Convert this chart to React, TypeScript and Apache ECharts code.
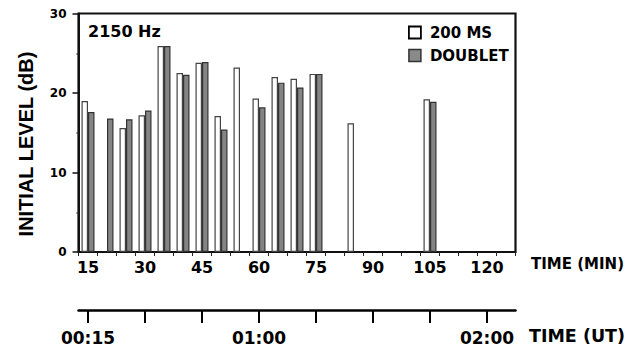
import React, { useEffect, useRef } from "react";
import * as echarts from "echarts";

// Time after start (minutes), one category every 5 minutes
const minutes = ["15", "20", "25", "30", "35", "40", "45", "50", "55", "60", "65", "70", "75", "80", "85", "90", "95", "100", "105", "110", "115", "120", "125"];
// Initial level (dB) of the 200 ms pulses
const ms200 = [19.0, null, 15.6, 17.2, 25.9, 22.5, 23.8, 17.1, 23.2, 19.3, 22.0, 21.8, 22.4, null, 16.2, null, null, null, 19.2, null, null, null, null];
// Initial level (dB) of the doublets
const doublet = [17.6, 16.8, 16.7, 17.8, 25.9, 22.3, 23.9, 15.4, null, 18.2, 21.3, 20.7, 22.4, null, null, null, null, null, 18.9, null, null, null, null];
// Universal time axis
const utTickMinutes = ["15", "30", "45", "60", "75", "90", "105", "120"];
const utLabelMinutes = ["15", "60", "120"];
const utLabelTexts = ["00:15", "01:00", "02:00"];
const minLabelMinutes = ["15", "30", "45", "60", "75", "90", "105", "120"];
const yTicks = [0, 10, 20, 30];

const SANS = "DejaVu Sans";

export default function App() {
  const ref = useRef<HTMLDivElement>(null);
  useEffect(() => {
    if (!ref.current) return;
    const chart = echarts.init(ref.current, null, { renderer: "svg" });
    const option: any = {
      animation: false,
      backgroundColor: "#ffffff",
      grid: {
        left: 78.5,
        right: 115.5,
        top: 13.5,
        bottom: 97,
        show: true,
        borderColor: "#111",
        borderWidth: 2.2,
        containLabel: false,
      },
      legend: {
        left: 403,
        top: 20,
        orient: "vertical",
        itemWidth: 12,
        itemHeight: 12,
        itemGap: 8,
        icon: "rect",
        textStyle: { fontFamily: SANS, fontWeight: "bold", fontSize: 15, color: "#000", padding: [0, 0, 0, 4] },
        data: [
          { name: "200 MS", itemStyle: { color: "#fff", borderColor: "#000", borderWidth: 1.8 } },
          { name: "DOUBLET", itemStyle: { color: "#8a8a8a", borderColor: "#333", borderWidth: 1.5 } },
        ],
      },
      xAxis: [
        {
          type: "category",
          data: minutes,
          gridIndex: 0,
          position: "bottom",
          boundaryGap: true,
          axisLine: { lineStyle: { color: "#111", width: 1.5 } },
          axisTick: { show: true, interval: 0, length: 4, lineStyle: { color: "#222", width: 1 } },
          axisLabel: {
            interval: (i: number, v: string) => minLabelMinutes.includes(v),
            margin: 7,
            fontFamily: SANS,
            fontWeight: "bold",
            fontSize: 16,
            color: "#000",
          },
          splitLine: { show: false },
        },
        {
          type: "category",
          data: minutes,
          gridIndex: 0,
          position: "bottom",
          offset: 58,
          boundaryGap: true,
          axisLine: { show: true, lineStyle: { color: "#000", width: 2.5 } },
          axisTick: {
            show: true,
            alignWithLabel: true,
            interval: (i: number, v: string) => utTickMinutes.includes(v),
            length: 13,
            lineStyle: { color: "#000", width: 2 },
          },
          axisLabel: {
            interval: (i: number, v: string) => utLabelMinutes.includes(v),
            formatter: (v: string) => {
              const k = utLabelMinutes.indexOf(v);
              return k >= 0 ? utLabelTexts[k] : "";
            },
            margin: 19,
            fontFamily: SANS,
            fontWeight: "bold",
            fontSize: 17,
            color: "#000",
          },
          splitLine: { show: false },
        },
      ],
      yAxis: {
        type: "value",
        min: yTicks[0],
        max: yTicks[yTicks.length - 1],
        interval: 10,
        axisLine: { show: true, lineStyle: { color: "#111", width: 2 } },
        axisTick: { show: true, length: 6, lineStyle: { color: "#111", width: 1.5 } },
        minorTick: { show: true, splitNumber: 2, length: 2, lineStyle: { color: "#333", width: 1.5 } },
        axisLabel: { margin: 12, fontFamily: SANS, fontWeight: "bold", fontSize: 12, color: "#000" },
        splitLine: { show: false },
      },
      graphic: [
        {
          type: "text",
          left: 88,
          top: 23,
          style: { text: "2150 Hz", fontFamily: SANS, fontWeight: "bold", fontSize: 16, fill: "#000" },
        },
        {
          type: "text",
          x: 25.5,
          y: 144,
          rotation: Math.PI / 2,
          style: {
            text: "INITIAL LEVEL (dB)",
            fontFamily: "Liberation Sans",
            fontWeight: "bold",
            fontSize: 20,
            fill: "#000",
            align: "center",
            verticalAlign: "middle",
          },
        },
        {
          type: "text",
          x: 531,
          y: 263.5,
          style: { text: "TIME (MIN)", fontFamily: SANS, fontWeight: "bold", fontSize: 15, fill: "#000", align: "left", verticalAlign: "middle" },
        },
        {
          type: "text",
          x: 529,
          y: 335.5,
          style: { text: "TIME (UT)", fontFamily: SANS, fontWeight: "bold", fontSize: 17.5, fill: "#000", align: "left", verticalAlign: "middle" },
        },
      ],
      series: [
        {
          name: "200 MS",
          type: "bar",
          xAxisIndex: 0,
          data: ms200,
          barWidth: 6.5,
          barGap: "0%",
          itemStyle: { color: "#ffffff", borderColor: "#444", borderWidth: 1.2 },
        },
        {
          name: "DOUBLET",
          type: "bar",
          xAxisIndex: 0,
          data: doublet,
          barWidth: 6.5,
          barGap: "0%",
          itemStyle: { color: "#858585", borderColor: "#333", borderWidth: 1.2 },
        },
      ],
    };
    chart.setOption(option);
    return () => chart.dispose();
  }, []);
  return <div ref={ref} style={{ position: "fixed", left: 0, top: 0, width: 631, height: 349 }} />;
}
